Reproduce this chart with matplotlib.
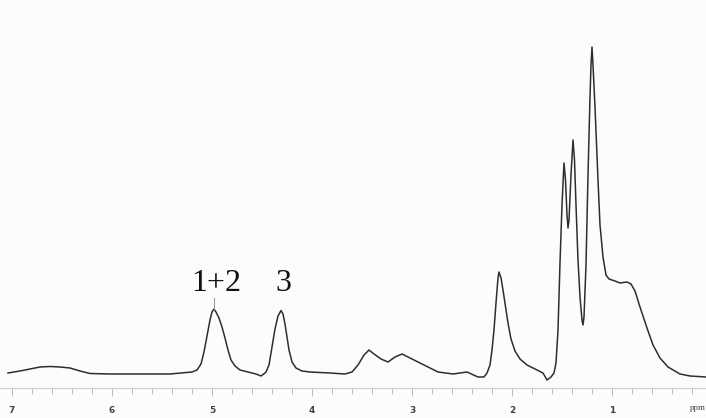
import numpy as np
import matplotlib.pyplot as plt
from matplotlib.ticker import MultipleLocator

# 1H NMR trace, chemical shift (ppm) vs. intensity (arb.)
shift = [7.04, 6.92, 6.82, 6.72, 6.62, 6.52, 6.42, 6.32, 6.22, 6.02, 5.72, 5.42,
         5.20, 5.15, 5.11, 5.08, 5.05, 5.02, 5.00, 4.98, 4.96, 4.93, 4.90, 4.87,
         4.84, 4.81, 4.77, 4.72, 4.64, 4.56, 4.51, 4.47,
         4.46, 4.43, 4.40, 4.37, 4.34, 4.31, 4.29, 4.27, 4.25, 4.23, 4.20, 4.16,
         4.10, 4.02, 3.82, 3.67,
         3.60, 3.54, 3.48, 3.43, 3.38, 3.31, 3.24, 3.17, 3.10, 3.02, 2.92, 2.82,
         2.74, 2.59, 2.45, 2.34, 2.28,
         2.25, 2.22, 2.20, 2.18, 2.16, 2.14, 2.13, 2.11, 2.09, 2.07, 2.04, 2.01,
         1.97, 1.92, 1.85, 1.75, 1.69, 1.65, 1.61, 1.58,
         1.56, 1.54, 1.52, 1.50, 1.48, 1.465, 1.45, 1.44, 1.43, 1.41, 1.39, 1.375,
         1.36, 1.34, 1.32, 1.30, 1.29, 1.28, 1.26, 1.24, 1.22, 1.21, 1.20, 1.19,
         1.17, 1.14, 1.12, 1.09, 1.06, 1.03, 0.97, 0.92, 0.85, 0.81, 0.77, 0.72,
         0.65, 0.59, 0.52, 0.44, 0.32, 0.22, 0.06]
intensity = [2, 4, 6, 8, 8.5, 8, 7, 4, 1.5, 1, 1, 1,
             3, 5, 11, 23, 39, 55, 63, 66, 63, 57, 48, 37,
             25, 15, 9, 5, 3, 1, -1, 2,
             3, 10, 28, 46, 59, 64.5, 61, 51, 38, 25, 13, 7,
             4, 3, 2, 1,
             3, 10, 20, 25, 21, 16, 13, 18, 21, 17, 12, 7,
             3, 1, 3, -2, -2,
             2, 10, 25, 45, 72, 97, 103, 97, 85, 72, 52, 36,
             24, 16, 10, 5, 2, -5, -2, 2,
             12, 45, 112, 170, 212, 195, 160, 147, 155, 200, 235, 215,
             170, 115, 78, 55, 50, 58, 110, 200, 278, 310, 328, 310,
             268, 195, 150, 118, 100, 96, 94, 92, 93, 91, 84, 68,
             47, 30, 17, 8, 1, -1, -2]

labels = ["1+2", "3"]
label_shift = [4.96, 4.29]

fig = plt.figure(figsize=(7.06, 4.18), dpi=100, facecolor="#fbfcfd")
ax = fig.add_axes([0, 30 / 418, 1, 388 / 418])
ax.set_facecolor("#fbfcfd")

ax.plot(shift, intensity, color="#2e2e2e", lw=1.1, solid_joinstyle="round")
# peak-pick marker on the 1+2 signal
ax.plot([4.98, 4.98], [66, 77], color="#999999", lw=0.8)

for txt, s in zip(labels, label_shift):
    ax.text(s, 84, txt, ha="center", va="baseline", fontsize=23,
            family="Liberation Serif", color="#111111")

ax.set_xlim(7.12, 0.06)
ax.set_ylim(-13, 375)

for side in ["top", "right", "left"]:
    ax.spines[side].set_visible(False)
ax.spines["bottom"].set_color("#d0d0d0")
ax.spines["bottom"].set_linewidth(0.8)

ax.xaxis.set_minor_locator(MultipleLocator(0.2))
ax.set_xticks([7, 6, 5, 4, 3, 2, 1])
ax.set_xticklabels(["7", "6", "5", "4", "3", "2", "1"], fontsize=6.5,
                   fontweight="bold", color="#444444")
ax.tick_params(axis="x", which="major", length=6, width=0.7, color="#bbbbbb", pad=7)
ax.tick_params(axis="x", which="minor", length=4, width=0.7, color="#bbbbbb")
ax.set_yticks([])

ax.text(0.22, -33, "ppm", ha="left", va="center", fontsize=6.5,
        family="Liberation Serif", color="#444444", clip_on=False)

fig.savefig("out.png", dpi=100, facecolor=fig.get_facecolor())
